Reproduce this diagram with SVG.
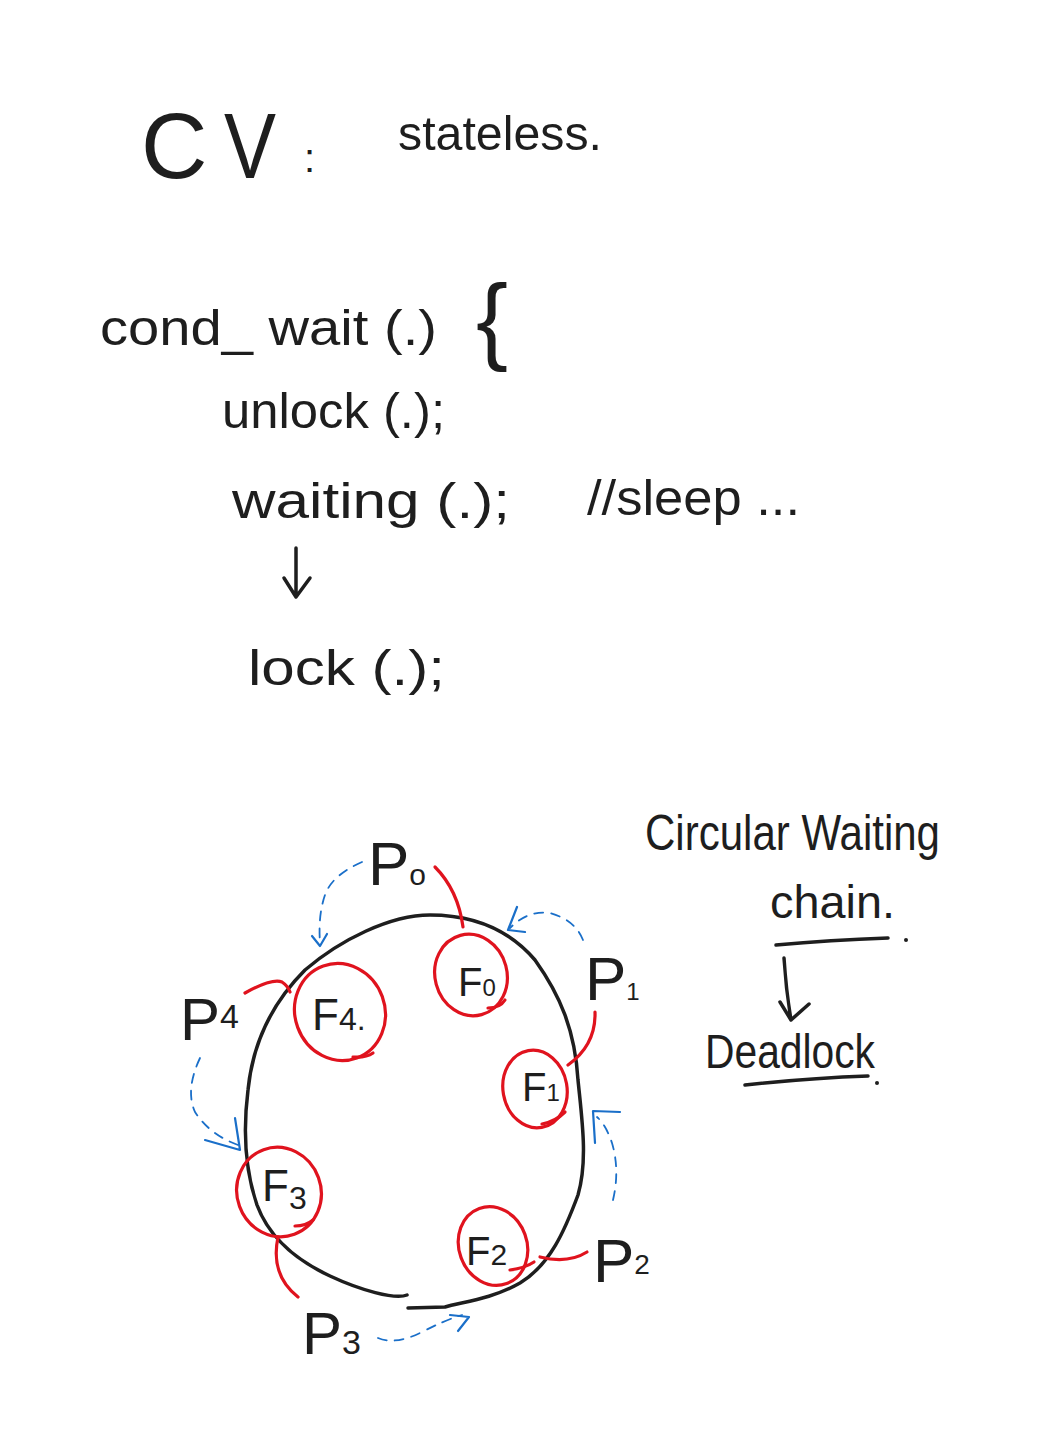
<svg xmlns="http://www.w3.org/2000/svg" width="1040" height="1456" viewBox="0 0 1040 1456">
<style>
  text { font-family: "Liberation Sans", "DejaVu Sans", sans-serif; fill: #1e1e1e; }
  .ink { fill: none; stroke: #1e1e1e; stroke-width: 3.5; stroke-linecap: round; stroke-linejoin: round; }
  .ring { fill: none; stroke: #e0131e; stroke-width: 3.2; stroke-linecap: round; }
  .hold { fill: none; stroke: #e0131e; stroke-width: 3.2; stroke-linecap: round; }
  .wait { fill: none; stroke: #1a6fc9; stroke-width: 1.8; stroke-dasharray: 9 8; stroke-linecap: round; }
  .head { fill: none; stroke: #1a6fc9; stroke-width: 2.2; stroke-linecap: round; stroke-linejoin: round; }
</style>
<rect width="1040" height="1456" fill="#ffffff"/>

<g id="title">
  <text x="141" y="178" font-size="92">C</text>
  <text x="224" y="178" font-size="92" textLength="52" lengthAdjust="spacingAndGlyphs">V</text>
  <text x="304" y="172" font-size="40">:</text>
  <text x="398" y="150" font-size="48" textLength="204" lengthAdjust="spacingAndGlyphs">stateless.</text>
</g>

<g id="code">
  <text x="100" y="345" font-size="50" textLength="337" lengthAdjust="spacingAndGlyphs">cond_ wait (.)</text>
  <text x="476" y="352" font-size="96">{</text>
  <text x="222" y="428" font-size="50" textLength="223" lengthAdjust="spacingAndGlyphs">unlock (.);</text>
  <text x="232" y="518" font-size="50" textLength="278" lengthAdjust="spacingAndGlyphs">waiting (.);</text>
  <text x="587" y="515" font-size="50" textLength="213" lengthAdjust="spacingAndGlyphs">//sleep ...</text>
  <text x="248" y="685" font-size="50" textLength="197" lengthAdjust="spacingAndGlyphs">lock (.);</text>
</g>

<g id="notes">
  <text x="645" y="850" font-size="50" textLength="295" lengthAdjust="spacingAndGlyphs">Circular Waiting</text>
  <text x="770" y="918" font-size="46" textLength="125" lengthAdjust="spacingAndGlyphs">chain.</text>
  <text x="705" y="1068" font-size="48" textLength="170" lengthAdjust="spacingAndGlyphs">Deadlock</text>
</g>

<g id="cycle-line">
  <path class="ink" d="M 407 1295 C 395 1300, 360 1290, 330 1276 C 300 1262, 270 1240, 257 1205 C 245 1170, 243 1130, 248 1090 C 253 1040, 275 1000, 305 970 C 340 940, 390 915, 430 915 C 465 915, 505 925, 535 960 C 560 995, 575 1030, 578 1080 C 582 1120, 588 1160, 578 1195 C 565 1230, 550 1265, 520 1283 C 490 1300, 460 1302, 445 1307 L 408 1308"/>
</g>

<g id="F0">
  <ellipse class="ring" cx="471" cy="975" rx="36" ry="41" transform="rotate(-15 471 975)"/>
  <path class="hold" d="M 488 1008 Q 500 1008 505 1000"/>
  <text x="458" y="996" font-size="40">F<tspan font-size="24">0</tspan></text>
</g>
<g id="F1">
  <ellipse class="ring" cx="535" cy="1089" rx="32" ry="39" transform="rotate(-10 535 1089)"/>
  <path class="hold" d="M 542 1124 Q 555 1122 565 1112"/>
  <text x="522" y="1101" font-size="40">F<tspan font-size="24">1</tspan></text>
</g>
<g id="F2">
  <ellipse class="ring" cx="493" cy="1246" rx="34" ry="40" transform="rotate(-20 493 1246)"/>
  <path class="hold" d="M 510 1270 Q 525 1268 534 1262"/>
  <text x="466" y="1265" font-size="40">F<tspan font-size="30">2</tspan></text>
</g>
<g id="F3">
  <ellipse class="ring" cx="279" cy="1192" rx="42" ry="45" transform="rotate(-20 279 1192)"/>
  <path class="hold" d="M 295 1226 Q 306 1226 313 1220"/>
  <text x="262" y="1201" font-size="44">F<tspan font-size="32" dy="8">3</tspan></text>
</g>
<g id="F4">
  <ellipse class="ring" cx="340" cy="1012" rx="45" ry="49" transform="rotate(-20 340 1012)"/>
  <path class="hold" d="M 353 1057 Q 366 1058 373 1053"/>
  <text x="312" y="1030" font-size="44">F<tspan font-size="32">4.</tspan></text>
</g>

<g id="P0"><text x="368" y="885" font-size="62">P<tspan font-size="30">o</tspan></text></g>
<g id="P1"><text x="585" y="1000" font-size="62">P<tspan font-size="24">1</tspan></text></g>
<g id="P2"><text x="593" y="1282" font-size="62">P<tspan font-size="28" dy="-8">2</tspan></text></g>
<g id="P3"><text x="302" y="1354" font-size="60">P<tspan font-size="34">3</tspan></text></g>
<g id="P4"><text x="180" y="1040" font-size="60">P<tspan font-size="34" dy="-12">4</tspan></text></g>

<g id="connectors">
  <path class="hold" d="M 435 867 Q 458 890 463 927"/>
  <path class="hold" d="M 595 1012 Q 596 1045 568 1065"/>
  <path class="hold" d="M 245 993 Q 272 978 282 982 Q 288 986 290 992"/>
  <path class="hold" d="M 278 1237 Q 270 1275 298 1297"/>
  <path class="hold" d="M 540 1257 Q 568 1264 587 1252"/>
  <path class="wait" d="M 362 862 Q 332 875 325 895 Q 318 915 320 943"/>
  <path class="head" d="M 312 936 L 320 946 L 327 934"/>
  <path class="wait" d="M 583 940 Q 575 920 550 913 Q 528 910 510 928"/>
  <path class="head" d="M 517 907 L 508 930 L 525 932"/>
  <path class="wait" d="M 613 1200 Q 620 1170 612 1143 Q 606 1125 597 1117"/>
  <path class="head" d="M 620 1112 L 593 1111 L 595 1143"/>
  <path class="wait" d="M 378 1338 Q 395 1345 420 1333 Q 445 1320 462 1315"/>
  <path class="head" d="M 450 1315 L 469 1317 L 458 1331"/>
  <path class="wait" d="M 200 1058 Q 185 1090 195 1112 Q 210 1135 238 1145"/>
  <path class="head" d="M 205 1140 L 240 1150 L 235 1118"/>
  <path class="ink" d="M 296 548 L 296 596 M 284 578 L 296 597 L 310 578"/>
  <path class="ink" d="M 776 945 Q 830 940 888 938"/>
  <circle cx="906" cy="940" r="2" fill="#1e1e1e"/>
  <path class="ink" d="M 784 958 Q 786 990 791 1020 M 780 1002 L 791 1020 L 809 1004"/>
  <path class="ink" d="M 745 1085 Q 810 1078 868 1076"/>
  <circle cx="877" cy="1083" r="2" fill="#1e1e1e"/>
</g>
</svg>
